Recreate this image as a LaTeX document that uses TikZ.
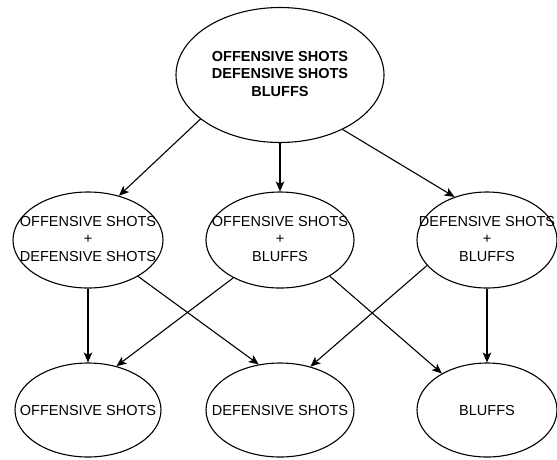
\documentclass[tikz,border=0pt]{standalone}
\usepackage{fontspec}
\setmainfont{Liberation Sans}
\usetikzlibrary{shapes.geometric,arrows.meta}
\begin{document}
\begin{tikzpicture}[x=1pt,y=-1pt,
  ell/.style={draw, ellipse, inner sep=0pt, line width=1.1pt},
  txt/.style={align=center, inner sep=0pt, font=\fontsize{14.5}{17.5}\selectfont},
  arr/.style={-{Stealth[length=10pt,width=8.5pt,inset=2.5pt]}, line width=1.1pt}]
\fill[white] (0,0) rectangle (557,459);
\useasboundingbox (0,0) rectangle (557,459);
% ellipses
\node[ell, minimum width=208pt, minimum height=135pt] (top) at (280,75) {};
\node[ell, minimum width=150pt, minimum height=96pt] (ml) at (88,240) {};
\node[ell, minimum width=148pt, minimum height=96pt] (mc) at (280,240) {};
\node[ell, minimum width=140pt, minimum height=96pt] (mr) at (487,240) {};
\node[ell, minimum width=146pt, minimum height=94pt] (bl) at (88,410) {};
\node[ell, minimum width=148pt, minimum height=94pt] (bc) at (280,410) {};
\node[ell, minimum width=140pt, minimum height=94pt] (br) at (487,410) {};
% texts
\node[txt, font=\fontsize{14.5}{17.5}\selectfont\bfseries] (topt) at (280,74) {OFFENSIVE SHOTS\\DEFENSIVE SHOTS\\BLUFFS};
\node[txt] (mlt) at (88,239) {OFFENSIVE SHOTS\\+\\DEFENSIVE SHOTS};
\node[txt] (mct) at (280,239) {OFFENSIVE SHOTS\\+\\BLUFFS};
\node[txt] (mrt) at (487,239) {DEFENSIVE SHOTS\\+\\BLUFFS};
\node[txt] (blt) at (88,410) {OFFENSIVE SHOTS};
\node[txt] (bct) at (280,410) {DEFENSIVE SHOTS};
\node[txt] (brt) at (487,410) {BLUFFS};
% arrows
\draw[arr] (top.-151) -- (ml.55);
\draw[arr] (top.south) -- (mc.north);
\draw[arr] (top.-41.5) -- (mr.127.5);
\draw[arr] (ml.south) -- (bl.north);
\draw[arr] (ml.-36) -- (bc.115);
\draw[arr] (mc.-141) -- (bl.57.7);
\draw[arr] (mc.-36) -- (br.141);
\draw[arr] (mr.-157) -- (bc.55);
\draw[arr] (mr.south) -- (br.north);
\end{tikzpicture}
\end{document}
